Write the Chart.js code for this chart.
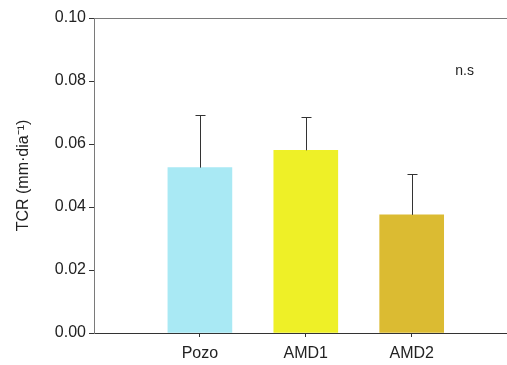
<!DOCTYPE html>
<html>
<head>
<meta charset="utf-8">
<script src="https://cdn.jsdelivr.net/npm/chart.js@4"></script>
<style>
  html, body { margin: 0; padding: 0; background: #fff; }
  #wrap { width: 507px; height: 365px; }
</style>
</head>
<body>
<div id="wrap"><canvas id="grafico" width="507" height="365"></canvas></div>
<script>
// Datos
const categorias = ['Pozo', 'AMD1', 'AMD2'];
const posiciones = [1, 2, 3];
const valores = [0.0525, 0.058, 0.0375];
const errores = [0.0166, 0.0107, 0.0131];
const colores = ['#a9e9f4', '#eef027', '#dbbb32'];
const ticksY = [0, 0.02, 0.04, 0.06, 0.08, 0.10];

const colorEje = '#7a7a7a';
const colorTexto = '#222222';
const fuente = '"Liberation Sans", Arial, sans-serif';

// Barras de error (solo hacia arriba), borde superior y texto n.s
const pluginExtras = {
  id: 'extras',
  afterDatasetsDraw(chart) {
    const { ctx, chartArea, scales } = chart;
    const x = scales.x, y = scales.y;
    ctx.save();
    ctx.strokeStyle = '#333333';
    ctx.lineWidth = 1;
    posiciones.forEach((p, i) => {
      const px = Math.round(x.getPixelForValue(p)) + 0.5;
      const y0 = y.getPixelForValue(valores[i]);
      const y1 = Math.round(y.getPixelForValue(valores[i] + errores[i])) + 0.5;
      ctx.beginPath();
      ctx.moveTo(px, y0);
      ctx.lineTo(px, y1);
      ctx.moveTo(px - 5, y1);
      ctx.lineTo(px + 5, y1);
      ctx.stroke();
    });
    // linea superior
    ctx.strokeStyle = colorEje;
    ctx.beginPath();
    ctx.moveTo(chartArea.left, Math.round(chartArea.top) + 0.5);
    ctx.lineTo(chartArea.right, Math.round(chartArea.top) + 0.5);
    ctx.stroke();
    // texto n.s
    ctx.fillStyle = colorTexto;
    ctx.font = '14px ' + fuente;
    ctx.textAlign = 'center';
    ctx.textBaseline = 'middle';
    ctx.fillText('n.s', x.getPixelForValue(3.5), y.getPixelForValue(0.083));
    ctx.restore();
  }
};

new Chart(document.getElementById('grafico').getContext('2d'), {
  type: 'bar',
  data: {
    datasets: [{
      data: posiciones.map((p, i) => ({ x: p, y: valores[i] })),
      backgroundColor: colores,
      borderWidth: 0,
      barThickness: 64
    }]
  },
  options: {
    responsive: false,
    animation: false,
    layout: { padding: { top: 18, right: 0, left: 14, bottom: 0 } },
    plugins: {
      legend: { display: false },
      tooltip: { enabled: false }
    },
    scales: {
      x: {
        type: 'linear',
        offset: false,
        min: 0,
        max: 3.9,
        afterBuildTicks: axis => { axis.ticks = posiciones.map(v => ({ value: v })); },
        afterFit: axis => {
          axis.height = 32;
          axis.paddingLeft = 0;
          axis.paddingRight = 0;
        },
        grid: { display: true, offset: false, drawOnChartArea: false, drawTicks: true, tickLength: 4, color: '#333333' },
        border: { color: '#333333', width: 1 },
        ticks: {
          callback: v => categorias[posiciones.indexOf(v)] || '',
          color: colorTexto,
          font: { family: fuente, size: 16 },
          padding: 7,
          maxRotation: 0
        }
      },
      y: {
        min: 0,
        max: 0.10,
        afterBuildTicks: axis => { axis.ticks = ticksY.map(v => ({ value: v })); },
        afterFit: axis => { axis.width = 80; },
        grid: { display: true, drawOnChartArea: false, drawTicks: true, tickLength: 5, color: '#333333' },
        border: { color: colorEje, width: 1 },
        ticks: {
          callback: v => v.toFixed(2),
          color: colorTexto,
          font: { family: fuente, size: 16 },
          padding: 3
        },
        title: {
          display: true,
          text: 'TCR (mm·dia⁻¹)',
          color: colorTexto,
          font: { family: fuente, size: 16 },
          padding: { top: 0, bottom: 4 }
        }
      }
    }
  },
  plugins: [pluginExtras]
});
</script>
</body>
</html>
